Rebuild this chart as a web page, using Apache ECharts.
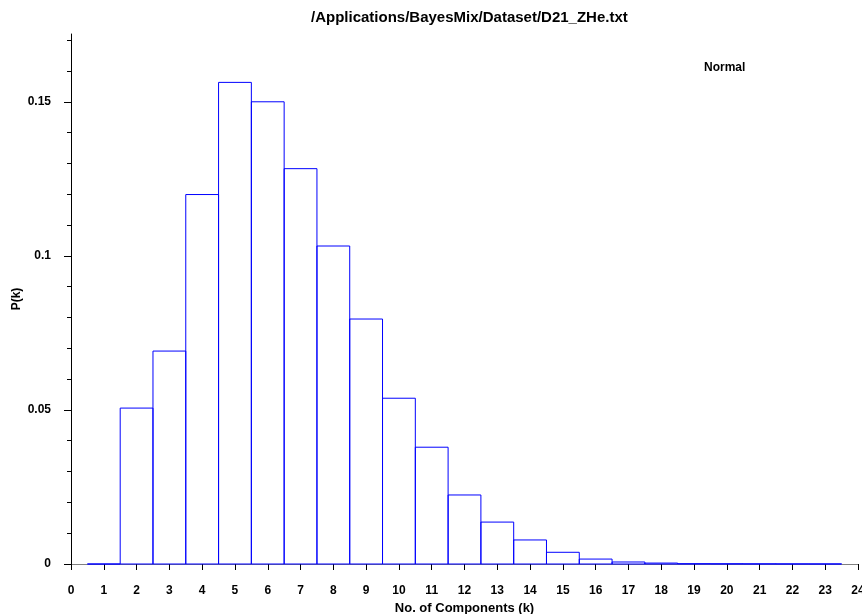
<!DOCTYPE html>
<html>
<head>
<meta charset="utf-8">
<script src="https://cdn.jsdelivr.net/npm/echarts@6/dist/echarts.min.js"></script>
<style>html,body{margin:0;padding:0;background:#fff}#c{width:862px;height:614px}</style>
</head>
<body>
<div id="c"></div>
<script>
const titleText = '/Applications/BayesMix/Dataset/D21_ZHe.txt';
const legendText = 'Normal';
const components = [1,2,3,4,5,6,7,8,9,10,11,12,13,14,15,16,17,18,19,20,21,22,23];
const probabilities = [0, 0.0506, 0.0691, 0.1199, 0.1563, 0.1500, 0.1283, 0.1032, 0.0795, 0.0538, 0.0379, 0.0224, 0.0136, 0.0078, 0.0038, 0.0016, 0.00065, 0.0003, 0.0001, 0.00008, 0.00006, 0.00004, 0.00003];
const yMajorTicks = [0, 0.05, 0.1, 0.15];
const yMinorTicks = [0.01,0.02,0.03,0.04,0.06,0.07,0.08,0.09,0.11,0.12,0.13,0.14,0.16,0.17];
const yLabels = ['0','0.05','0.1','0.15'];

const font = 'Liberation Sans, Arial, Helvetica, sans-serif';
const chart = echarts.init(document.getElementById('c'), null, {renderer:'canvas'});
const data = components.map((k,i)=>[k, probabilities[i]]);

chart.setOption({
  animation: false,
  backgroundColor: '#fff',
  title: [
    {text: titleText, left: 306, top: 5, textStyle:{fontFamily: font, fontWeight:'bold', fontSize:15, color:'#000'}},
    {text: legendText, left: 699, top: 57, textStyle:{fontFamily: font, fontWeight:'bold', fontSize:12, color:'#000'}}
  ],
  grid: {left: 71, right: 4, top: 34, bottom: 50, containLabel:false, outerBoundsMode:'none'},
  xAxis: [
    {type:'value', min:0, max:24, interval:1, position:'bottom', offset:7,
     axisLine:{show:true, lineStyle:{color:'#000', width:1}},
     axisTick:{show:true, length:6, lineStyle:{color:'#000'}},
     axisLabel:{show:true, margin:14, fontFamily:font, fontWeight:'bold', fontSize:12, color:'#000', showMinLabel:true, showMaxLabel:true},
     splitLine:{show:false},
     name:'No. of Components (k)', nameLocation:'middle', nameGap:31, nameMoveOverlap:false,
     nameTextStyle:{fontFamily:font, fontWeight:'bold', fontSize:13, color:'#000'}},
    {type:'value', min:0, max:24, position:'bottom', offset:0,
     axisLine:{show:true, lineStyle:{color:'#808080', width:1}},
     axisTick:{show:false}, axisLabel:{show:false}, splitLine:{show:false}}
  ],
  yAxis: [
    {type:'value', min:0, max:0.172, position:'left', offset:8,
     axisLine:{show:true, lineStyle:{color:'#000', width:1}},
     axisTick:{show:true, length:7, customValues: yMajorTicks, lineStyle:{color:'#000'}},
     axisLabel:{show:true, margin:12, customValues: yMajorTicks, fontFamily:font, fontWeight:'bold', fontSize:12, color:'#000',
       formatter: v => { const i = yMajorTicks.findIndex(t=>Math.abs(t-v)<1e-9); return i>=0 ? yLabels[i] : ''; }},
     splitLine:{show:false},
     name:'P(k)', nameLocation:'middle', nameGap:40, nameRotate:90, nameMoveOverlap:false,
     nameTextStyle:{fontFamily:font, fontWeight:'bold', fontSize:12, color:'#000'}},
    {type:'value', min:0, max:0.172, position:'left', offset:8,
     axisLine:{show:false},
     axisTick:{show:true, length:4, customValues: yMinorTicks, lineStyle:{color:'#000'}},
     axisLabel:{show:false}, splitLine:{show:false}}
  ],
  series: [{
    type:'custom',
    xAxisIndex:0, yAxisIndex:0,
    data: data,
    encode:{x:0, y:1},
    clip:false,
    renderItem: function(params, api){
      const k = api.value(0), v = api.value(1);
      const p1 = api.coord([k-0.5, v]);
      const p2 = api.coord([k+0.5, 0]);
      return {
        type:'rect',
        shape:{x:p1[0], y:p1[1], width:p2[0]-p1[0], height:p2[1]-p1[1]},
        style:{fill:'rgba(255,255,255,0)', stroke:'#0000ff', lineWidth:1}
      };
    }
  }]
});
</script>
</body>
</html>
